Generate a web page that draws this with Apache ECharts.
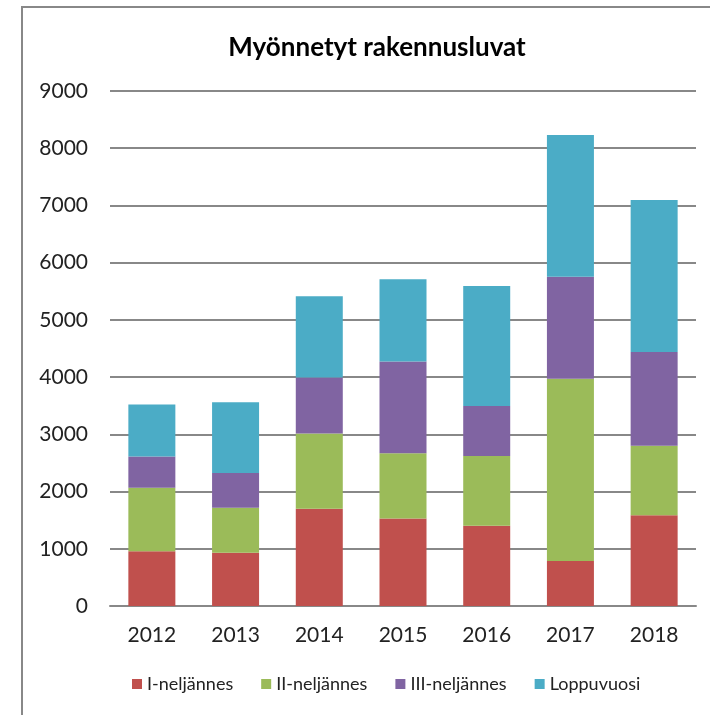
<!DOCTYPE html>
<html>
<head>
<meta charset="utf-8">
<script src="https://cdn.jsdelivr.net/npm/echarts@6/dist/echarts.min.js"></script>
<style>
  html, body { margin: 0; padding: 0; background: #fff; }
  #chart { width: 710px; height: 715px; }
</style>
</head>
<body>
<div id="chart"></div>
<script>
// vuodet ja neljännesten luvut (luettu kuvasta)
const years = ['2012', '2013', '2014', '2015', '2016', '2017', '2018'];
const q1 = [955, 930, 1698, 1529, 1401, 788, 1588];
const q2 = [1110, 786, 1316, 1139, 1220, 3182, 1214];
const q3 = [547, 610, 981, 1605, 876, 1786, 1635];
const rest = [908, 1234, 1419, 1436, 2095, 2475, 2656];
const seriesNames = ['I-neljännes', 'II-neljännes', 'III-neljännes', 'Loppuvuosi'];
const colors = ['#C0504D', '#9BBB59', '#8064A2', '#4BACC6'];

const chart = echarts.init(document.getElementById('chart'));
const font = 'Lato, "Open Sans", sans-serif';

const option = {
  animation: false,
  color: colors,
  title: {
    text: 'Myönnetyt rakennusluvat',
    left: 372,
    top: 30,
    textAlign: 'center',
    textStyle: { fontFamily: font, fontSize: 26, fontWeight: 'bold', color: '#000' }
  },
  legend: {
    bottom: 17,
    left: 127,
    itemWidth: 10,
    itemHeight: 10,
    itemGap: 28,
    icon: 'rect',
    textStyle: { fontFamily: font, fontSize: 18, color: '#222' },
    data: seriesNames
  },
  graphic: [
    { type: 'line', shape: { x1: 22, y1: 7, x2: 22, y2: 715 }, style: { stroke: '#888', lineWidth: 2 } },
    { type: 'line', shape: { x1: 21, y1: 7, x2: 710, y2: 7 }, style: { stroke: '#888', lineWidth: 2 } }
  ],
  grid: { left: 110, right: 14, top: 91, bottom: 109, containLabel: false },
  xAxis: {
    type: 'category',
    data: years,
    axisLine: { lineStyle: { color: '#888', width: 2 } },
    axisTick: { show: false },
    axisLabel: { fontFamily: font, fontSize: 21, color: '#222', margin: 19 }
  },
  yAxis: {
    type: 'value',
    min: 0,
    max: 9000,
    interval: 1000,
    axisLine: { show: false },
    axisTick: { show: false },
    axisLabel: { fontFamily: font, fontSize: 21, color: '#222', margin: 22, formatter: v => String(v) },
    splitLine: { lineStyle: { color: '#888', width: 2 } }
  },
  series: [q1, q2, q3, rest].map((d, i) => ({
    name: seriesNames[i],
    type: 'bar',
    stack: 'total',
    barWidth: 47,
    data: d
  }))
};

option && chart.setOption(option);
</script>
</body>
</html>
